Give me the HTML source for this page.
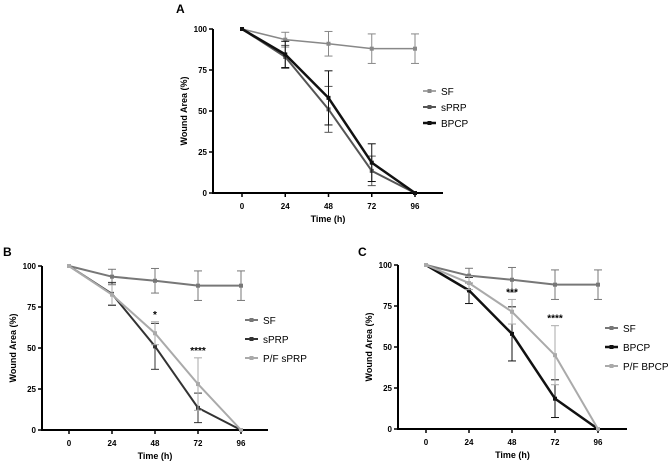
<!DOCTYPE html>
<html><head><meta charset="utf-8"><style>
body{margin:0;background:#fff;}
svg text{font-family:"Liberation Sans",sans-serif;font-weight:bold;}
</style></head><body>
<svg id="fig" width="669" height="463" viewBox="0 0 669 463">
<text x="176" y="13" font-size="12">A</text>
<text x="3" y="256" font-size="12">B</text>
<text x="358" y="256" font-size="12">C</text>
</svg>
<script>
const times = [0, 24, 48, 72, 96];
const yTicks = [0, 25, 50, 75, 100];
const sfVals = [100, 93.5, 91, 88, 88];
const sfErr = [0, 4.5, 7.5, 9, 9];
const sprpVals = [100, 83, 51, 13.5, 0];
const sprpErr = [0, 7, 14, 9, 0];
const bpcpVals = [100, 84.5, 58, 18.5, 0];
const bpcpErr = [0, 8, 16.5, 11.5, 0];
const pfSprpVals = [100, 82.5, 59, 28, 0];
const pfSprpErr = [0, 6, 7, 16, 0];
const pfBpcpVals = [100, 89, 71.5, 45, 0];
const pfBpcpErr = [0, 4, 7.5, 18, 0];
const starsB = ["", "", "*", "****", ""];
const starsC = ["", "", "***", "****", ""];

const NS = "http://www.w3.org/2000/svg";
const svg = document.getElementById('fig');
function mk(tag, attrs, parent, text){
  const e = document.createElementNS(NS, tag);
  for (const k in attrs) e.setAttribute(k, attrs[k]);
  if (text !== undefined) e.textContent = text;
  (parent || svg).appendChild(e);
  return e;
}
function panel(p){
  const g = mk('g', {});
  
  
  const sx = v => p.x0 + (p.x96 - p.x0) * v / 96;
  const sy = v => p.y0 + (p.y100 - p.y0) * v / 100;
  const ax = mk('g', {}, g);
  
  
  mk('line', {x1:p.ax, y1:p.y100, x2:p.ax, y2:p.y0+1, stroke:'#000','stroke-width':2}, ax);
  mk('line', {x1:p.ax, y1:p.y0, x2:p.xend, y2:p.y0, stroke:'#000','stroke-width':2}, ax);
  yTicks.forEach(t => {
    mk('line', {x1:p.ax-4, y1:sy(t), x2:p.ax, y2:sy(t), stroke:'#000','stroke-width':1.5}, ax);
    const tx = mk('text', {x:p.ax-6, y:sy(t)+3, 'font-size':8, 'text-anchor':'end'}, ax, t);
    
    
  });
  times.forEach(t => {
    mk('line', {x1:sx(t), y1:p.y0, x2:sx(t), y2:p.y0+4, stroke:'#000','stroke-width':1.5}, ax);
    const tx = mk('text', {x:sx(t), y:p.y0+16, 'font-size':8, 'text-anchor':'middle'}, ax, t);
    
    
  });
  const xt = mk('text', {x:(p.ax+p.xend)/2, y:p.y0+29, 'font-size':9, 'text-anchor':'middle'}, ax, 'Time (h)');
  
  
  const yc = (p.y0+p.y100)/2;
  const yt = mk('text', {x:p.ax-26, y:yc, 'font-size':9, 'text-anchor':'middle', transform:`rotate(-90 ${p.ax-26} ${yc})`}, ax, 'Wound Area (%)');
  
  
  p.series.forEach((s, si) => {
    const sg = mk('g', {}, g);
    
    
    s.vals.forEach((v, i) => {
      if (s.err[i] > 0) {
        const x = sx(times[i]);
        mk('line', {x1:x, y1:sy(v+s.err[i]), x2:x, y2:sy(v-s.err[i]), stroke:s.c,'stroke-width':1}, sg);
        mk('line', {x1:x-4, y1:sy(v+s.err[i]), x2:x+4, y2:sy(v+s.err[i]), stroke:s.c,'stroke-width':1}, sg);
        mk('line', {x1:x-4, y1:sy(v-s.err[i]), x2:x+4, y2:sy(v-s.err[i]), stroke:s.c,'stroke-width':1}, sg);
      }
    });
    mk('polyline', {points:s.vals.map((v,i)=>sx(times[i])+','+sy(v)).join(' '), fill:'none', stroke:s.c, 'stroke-width':s.w}, sg);
    s.vals.forEach((v, i) => {
      const m = mk('rect', {x:sx(times[i])-2, y:sy(v)-2, width:4, height:4, fill:s.c}, sg);
      
      
    });
    const ly = p.ly + si * p.lgap;
    const lg = mk('g', {}, g);
    
    
    mk('line', {x1:p.lx, y1:ly, x2:p.lx+13, y2:ly, stroke:s.c, 'stroke-width':s.w}, lg);
    mk('rect', {x:p.lx+4.5, y:ly-2, width:4, height:4, fill:s.c}, lg);
    mk('text', {x:p.lx+18, y:ly+4, 'font-size':10, 'font-weight':'normal', style:'font-weight:normal'}, lg, s.label);
  });
  if (p.stars) p.stars.forEach((st, i) => {
    if (!st) return;
    const top = p.starRef[i];
    const t = mk('text', {x:sx(times[i]), y:sy(top)-4, 'font-size':10, 'text-anchor':'middle'}, g, st);
    
    
  });
}
const topOf = (v,e) => v.map((x,i)=>x+e[i]);
panel({name:'panel-a', ax:213, x0:242, x96:415, xend:443, y0:193, y100:29, lx:423, ly:91, lgap:16,
  series:[{label:'SF', vals:sfVals, err:sfErr, c:'#888', w:1.5},
          {label:'sPRP', vals:sprpVals, err:sprpErr, c:'#555', w:2},
          {label:'BPCP', vals:bpcpVals, err:bpcpErr, c:'#111', w:2.5}]});
panel({name:'panel-b', ax:42, x0:69, x96:241, xend:268, y0:430, y100:266, lx:245, ly:320, lgap:19,
  series:[{label:'SF', vals:sfVals, err:sfErr, c:'#777', w:2},
          {label:'sPRP', vals:sprpVals, err:sprpErr, c:'#333', w:2},
          {label:'P/F sPRP', vals:pfSprpVals, err:pfSprpErr, c:'#aaa', w:2}],
  stars:starsB, starRef:topOf(pfSprpVals, pfSprpErr)});
panel({name:'panel-c', ax:398, x0:426, x96:598, xend:627, y0:429, y100:265, lx:605, ly:328, lgap:19,
  series:[{label:'SF', vals:sfVals, err:sfErr, c:'#777', w:2},
          {label:'BPCP', vals:bpcpVals, err:bpcpErr, c:'#111', w:2.5},
          {label:'P/F BPCP', vals:pfBpcpVals, err:pfBpcpErr, c:'#aaa', w:2}],
  stars:starsC, starRef:topOf(pfBpcpVals, pfBpcpErr)});
</script>
</body></html>
